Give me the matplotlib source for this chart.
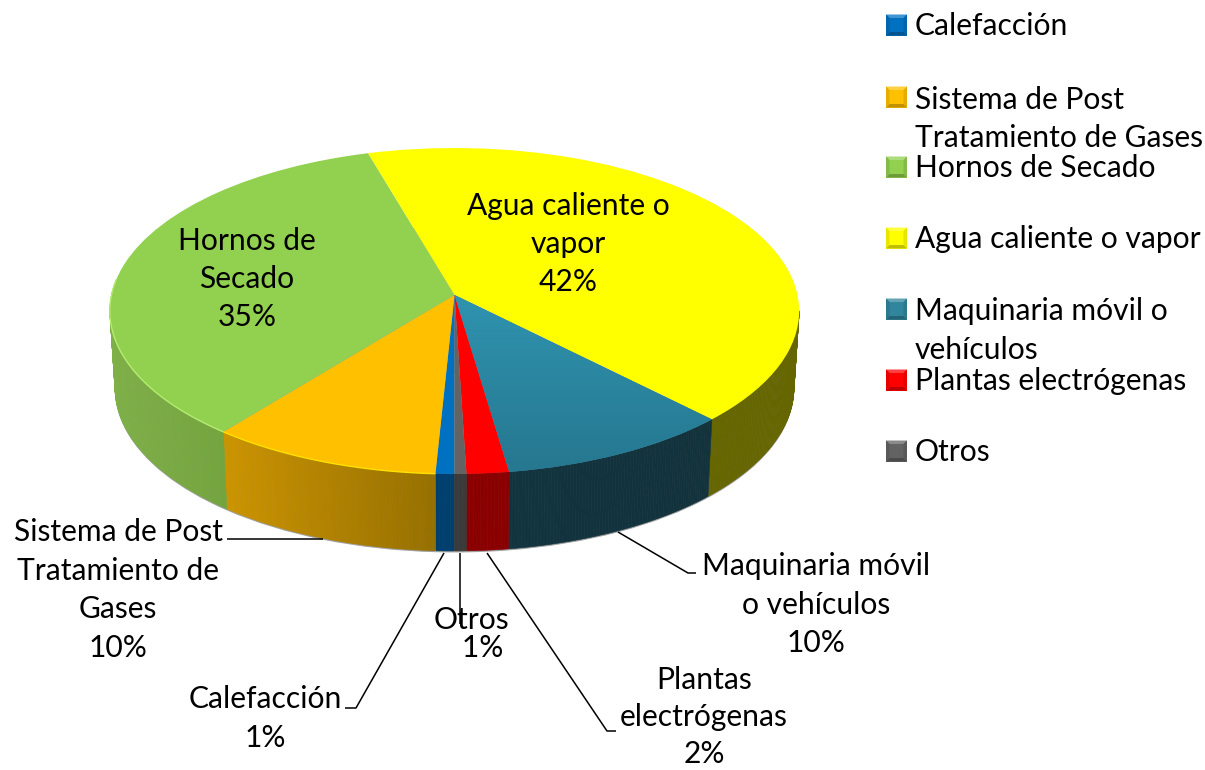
import numpy as np
import matplotlib
matplotlib.use("Agg")
import matplotlib.pyplot as plt
from matplotlib import transforms as mtransforms
from matplotlib.collections import PolyCollection
from matplotlib.patches import Rectangle, Polygon
from matplotlib.colors import to_rgb, LinearSegmentedColormap

plt.rcParams['font.family'] = ['Lato', 'DejaVu Sans']

# --- data (clockwise from the bottom of the pie) ---
categories = ["Calefacción", "Sistema de Post Tratamiento de Gases", "Hornos de Secado",
              "Agua caliente o vapor", "Maquinaria móvil o vehículos",
              "Plantas electrógenas", "Otros"]
shares = [0.8, 9.9, 34.9, 42.2, 10.0, 1.8, 0.5]
top_colors = ["#0070C0", "#FFC000", "#92D050", "#FFFF00", "#2C86A3", "#FF0000", "#636363"]
wall_left = ["#003F6E", "#CC9400", "#7FB048", "#666600", "#12343F", "#8A0000", "#3A3A3A"]
wall_right = ["#003F6E", "#967000", "#74A43E", "#666600", "#12323C", "#8A0000", "#3A3A3A"]
rim_colors = [None, "#FFE000", "#B4EC70", None, None, None, None]
legend_labels = ["Calefacción", "Sistema de Post\nTratamiento de Gases", "Hornos de Secado",
                 "Agua caliente o vapor", "Maquinaria móvil o\nvehículos",
                 "Plantas electrógenas", "Otros"]
data_labels = ["Calefacción\n1%", "Sistema de Post\nTratamiento de\nGases\n10%",
               "Hornos de\nSecado\n35%", "Agua caliente o\nvapor\n42%",
               "Maquinaria móvil\no vehículos\n10%", "Plantas\nelectrógenas\n2%",
               "Otros\n\u00a0\u00a0\u00a01%"]

# --- layout (pixels) ---
W, H = 1205, 770
CX, K = 454.5, 343
A, B, C = -132.5, 295, 0.098
DEPTH, SHRINK = 77, 0.985
FS = 21.6
legend_swatch_y = [25, 97, 167, 238, 309, 380, 451]
legend_text_y = [26, 119, 168, 239, 330.5, 381, 452]
label_xy = [(265, 718.5), (118, 590), (247, 279), (568, 244), (816, 604.5), (704, 717), (471, 634)]
label_ls = [1.47, 1.45, 1.45, 1.45, 1.45, 1.4, 0.98]
leaders = [[(444, 553), (356, 708), (345, 708)],
           [(227, 539), (323, 539)],
           [(618, 532), (688, 573), (696, 573)],
           [(487, 553), (607, 731), (616, 731)],
           [(460, 553), (460, 624)]]


class Perspective(mtransforms.Transform):
    """Unit-disc coordinates to pixel coordinates of the tilted pie."""
    input_dims = output_dims = 2
    is_separable = False
    has_inverse = False

    def __init__(self, dy=0.0, sx=1.0):
        super().__init__()
        self.dy, self.sx = dy, sx

    def transform_non_affine(self, xy):
        xy = np.asarray(xy, float)
        u, v = xy[:, 0], xy[:, 1]
        d = 1 + C * v
        return np.column_stack([CX + self.sx * K * u / d, (A * v + B) / d + self.dy])


top_tf = Perspective()
bot_tf = Perspective(DEPTH, SHRINK)
fringe_tf = Perspective(DEPTH + 1.5, SHRINK)

fig = plt.figure(figsize=(W / 100, H / 100), dpi=100)
ax = fig.add_axes([0, 0, 1, 1])

# lower face: only its thin grey fringe stays visible below the walls
fr, _ = ax.pie(shares, startangle=270, counterclock=False, colors=["#A0A0A0"] * 7,
               wedgeprops=dict(linewidth=0), normalize=True)
for w in fr:
    w.set_transform(fringe_tf + ax.transData)
    w.set_zorder(1)

# upper face
wedges, _ = ax.pie(shares, startangle=270, counterclock=False, colors=top_colors,
                   wedgeprops=dict(linewidth=0), normalize=True)
for w in wedges:
    w.set_transform(top_tf + ax.transData)
    w.set_zorder(4)

# side walls, made from the wedge angles
front_lo, front_hi = -185.6, -5.6
for i, w in enumerate(wedges):
    t1, t2 = w.theta1, w.theta2
    while t2 > front_hi + 1e-6 and t1 > front_hi:
        t1 -= 360
        t2 -= 360
    lo, hi = max(t1, front_lo), min(t2, front_hi)
    if hi <= lo:
        continue
    ang = np.radians(np.linspace(lo, hi, max(int((hi - lo) * 2), 2) + 1))
    disc = np.column_stack([np.cos(ang), np.sin(ang)])
    top = top_tf.transform_non_affine(disc)
    bot = bot_tf.transform_non_affine(disc)
    c0, c1 = np.array(to_rgb(wall_left[i])), np.array(to_rgb(wall_right[i]))
    xmin, xmax = top[:, 0].min(), top[:, 0].max()
    polys, cols = [], []
    for j in range(len(ang) - 1):
        polys.append([top[j], top[j + 1], bot[j + 1], bot[j]])
        f = (0.5 * (top[j, 0] + top[j + 1, 0]) - xmin) / max(xmax - xmin, 1e-6)
        cols.append(c0 + (c1 - c0) * f)
    ax.add_collection(PolyCollection(polys, facecolors=cols, edgecolors=cols,
                                     linewidths=0.4, zorder=2))
    if rim_colors[i]:
        ax.plot(top[:, 0], top[:, 1], color=rim_colors[i], lw=1.0, zorder=5,
                solid_capstyle='butt')

# soft vertical shading on the teal slice
teal = LinearSegmentedColormap.from_list("teal", ["#2F93AF", "#26778F"])
im = ax.imshow(np.linspace(0, 1, 64).reshape(-1, 1), cmap=teal, aspect='auto',
               extent=(440, 720, 475, 295), zorder=4.5)
im.set_clip_path(wedges[4])

# leader lines
for pts in leaders:
    xs, ys = zip(*pts)
    ax.plot(xs, ys, color='black', lw=1.1, zorder=3, solid_capstyle='butt')

# data labels
for s, (x, y), ls in zip(data_labels, label_xy, label_ls):
    ax.text(x, y, s, ha='center', va='center', fontsize=FS, linespacing=ls,
            color='black', zorder=6)

# legend
for c, s, ys, yt in zip(top_colors, legend_labels, legend_swatch_y, legend_text_y):
    base = np.array(to_rgb("#31859C" if c == "#2C86A3" else c))
    x0, x1, y0, y1 = 886, 907, ys - 10.5, ys + 10.5
    bev = 3.5
    ax.add_patch(Rectangle((x0, y0), x1 - x0, y1 - y0, fc=base, lw=0, zorder=6))
    ax.add_patch(Polygon([(x0, y0), (x1, y0), (x1 - bev, y0 + bev), (x0 + bev, y0 + bev)],
                         fc=base + (1 - base) * 0.25, lw=0, zorder=7))
    ax.add_patch(Polygon([(x0, y1), (x1, y1), (x1 - bev, y1 - bev), (x0 + bev, y1 - bev)],
                         fc=base * 0.75, lw=0, zorder=7))
    ax.add_patch(Polygon([(x0, y0), (x0 + bev, y0 + bev), (x0 + bev, y1 - bev), (x0, y1)],
                         fc=base * 0.9, lw=0, zorder=7))
    ax.add_patch(Polygon([(x1, y0), (x1 - bev, y0 + bev), (x1 - bev, y1 - bev), (x1, y1)],
                         fc=base * 0.9, lw=0, zorder=7))
    ax.text(915, yt, s, ha='left', va='center', fontsize=FS, linespacing=1.45,
            color='black', zorder=6)

ax.set_aspect('auto')
ax.set_xlim(0, W)
ax.set_ylim(H, 0)
ax.axis('off')
fig.savefig("out.png", dpi=100, facecolor='white')
